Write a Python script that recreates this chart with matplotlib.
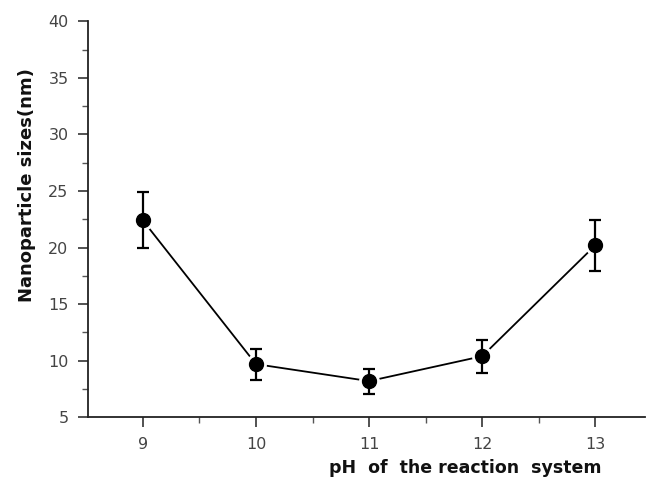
import matplotlib
matplotlib.use("Agg")
from matplotlib import pyplot as plt
from matplotlib.ticker import MultipleLocator

# pH of the reaction system vs nanoparticle size
ph = [9, 10, 11, 12, 13]
size_nm = [22.4, 9.7, 8.2, 10.4, 20.2]
err_lo = [2.4, 1.4, 1.1, 1.5, 2.3]
err_hi = [2.5, 1.3, 1.1, 1.4, 2.2]

fig = plt.figure(figsize=(6.47, 4.83), dpi=100)
ax = fig.add_axes([0.136, 0.136, 0.861, 0.82])

ax.plot(ph, size_nm, color="black", lw=1.3, zorder=1)
# white halo so the line stops short of each dot
ax.plot(ph, size_nm, "o", color="white", markersize=14, zorder=2)
ax.errorbar(ph, size_nm, yerr=[err_lo, err_hi], fmt="none", ecolor="black",
            elinewidth=1.6, capsize=4, capthick=1.6, zorder=3)
ax.plot(ph, size_nm, "o", color="black", markersize=10, zorder=4)

ax.set_xlim(8.515, 13.44)
ax.set_ylim(5, 40)
ax.set_xticks(ph)
ax.xaxis.set_minor_locator(MultipleLocator(0.5))
ax.yaxis.set_major_locator(MultipleLocator(5))
ax.yaxis.set_minor_locator(MultipleLocator(2.5))

for s in ["top", "right"]:
    ax.spines[s].set_visible(False)
for s in ["left", "bottom"]:
    ax.spines[s].set_linewidth(1.3)
    ax.spines[s].set_color("#222222")

ax.tick_params(which="major", direction="out", length=7, width=1.2,
               labelsize=11.5, labelcolor="#444444", color="#333333", pad=7)
ax.tick_params(which="minor", direction="out", length=4, width=1.0,
               color="#555555")

ax.set_xlabel("pH  of  the reaction  system", fontsize=12.5,
              fontweight="bold", color="#111111")
ax.xaxis.set_label_coords(0.678, -0.105)
ax.set_ylabel("Nanoparticle sizes(nm)", fontsize=13, fontweight="bold",
              color="#111111")
ax.yaxis.set_label_coords(-0.093, 0.587)

fig.savefig("out.png", dpi=100)
